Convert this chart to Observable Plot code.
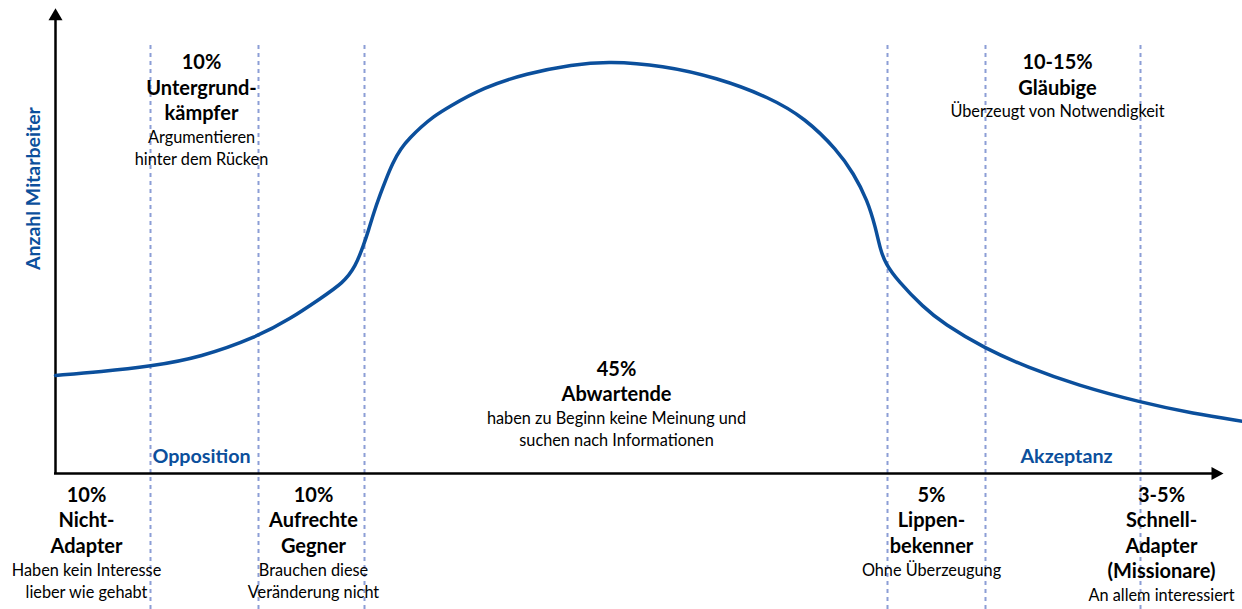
<!DOCTYPE html>
<html>
<head>
<meta charset="utf-8">
<script src="https://cdn.jsdelivr.net/npm/d3@7"></script>
<script src="https://cdn.jsdelivr.net/npm/@observablehq/plot@0.6"></script>
<style>
  html, body { margin: 0; padding: 0; background: #fff; }
  #chart svg { display: block; }
</style>
</head>
<body>
<div id="chart"></div>
<script>
// ---- data (x: phase units, y: relative number of employees) ----
const curveX = [0, 4.5, 9.5, 14.5, 20.2, 23.5, 26.5, 28.8, 30.0, 30.8, 31.3, 31.8, 32.5, 33.0, 33.7, 34.5, 35.5, 36.5, 37.8, 39.2, 42.8, 47.1, 51.7, 55.3, 60.7, 66.1, 71.4, 75.0, 78.2, 79.8, 81.2, 82.0, 82.5, 83.0, 84.2, 86.8, 88.8, 92.9, 97.2, 102.2, 108.5, 113.8, 118.7];
const curveY = [21.8, 22.6, 23.8, 25.8, 30.4, 34.4, 38.9, 42.4, 46.0, 50.7, 54.0, 57.8, 62.2, 65.1, 68.9, 72.2, 74.7, 76.9, 79.3, 81.3, 85.8, 88.9, 90.9, 91.6, 90.7, 88.0, 83.6, 78.9, 71.8, 66.7, 60.7, 54.7, 49.6, 46.7, 42.9, 36.9, 33.3, 27.8, 23.6, 19.6, 15.8, 13.3, 11.6];

const phaseBounds = [9.5, 20.3, 30.9, 83.2, 93.0, 108.5];

const groupX = [14.6, 3.1, 25.8, 56.1, 100.2, 87.6, 110.6];
const groupY = [91.3, -4.9, -4.9, 23.1, 91.3, -4.9, -4.9];
const groupBold = [
  ["10%", "Untergrund-", "kämpfer"],
  ["10%", "Nicht-", "Adapter"],
  ["10%", "Aufrechte", "Gegner"],
  ["45%", "Abwartende"],
  ["10-15%", "Gläubige"],
  ["5%", "Lippen-", "bekenner"],
  ["3-5%", "Schnell-", "Adapter", "(Missionare)"]
];
const groupNote = [
  ["Argumentieren", "hinter dem Rücken"],
  ["Haben kein Interesse", "lieber wie gehabt"],
  ["Brauchen diese", "Veränderung nicht"],
  ["haben zu Beginn keine Meinung und", "suchen nach Informationen"],
  ["Überzeugt von Notwendigkeit"],
  ["Ohne Überzeugung"],
  ["An allem interessiert"]
];

const zoneLabels = ["Opposition", "Akzeptanz"];
const zoneX = [14.6, 101.1];
const zoneY = [3.8, 3.8];

const yTitle = "Anzahl Mitarbeiter";

// ---- layout ----
const W = 1242, H = 609;
const mTop = 23, mBottom = 136, mLeft = 55, mRight = 0;
const yDomain = [0, 100];
const pxPerY = (H - mTop - mBottom) / (yDomain[1] - yDomain[0]);
const boldStep = 25.5, noteStep = 22, gap = -1.5;

const blue = "#0b4f9c";
const font = "Lato, 'Open Sans', sans-serif";

const curve = curveX.map((x, i) => ({x, y: curveY[i]}));

const boldLines = [], noteLines = [];
groupBold.forEach((lines, g) => {
  lines.forEach((t, k) => boldLines.push({x: groupX[g], y: groupY[g] - (k * boldStep) / pxPerY, t}));
  groupNote[g].forEach((t, j) => noteLines.push({
    x: groupX[g],
    y: groupY[g] - (lines.length * boldStep + gap + j * noteStep) / pxPerY,
    t
  }));
});

const zones = zoneLabels.map((t, i) => ({t, x: zoneX[i], y: zoneY[i]}));

const upArrow = {draw(ctx) { ctx.moveTo(0, 0); ctx.lineTo(7, 12); ctx.lineTo(-7, 12); ctx.closePath(); }};
const rightArrow = {draw(ctx) { ctx.moveTo(0, 0); ctx.lineTo(-12, -6.5); ctx.lineTo(-12, 6.5); ctx.closePath(); }};

const chart = Plot.plot({
  width: W,
  height: H,
  marginTop: mTop,
  marginBottom: mBottom,
  marginLeft: mLeft,
  marginRight: mRight,
  x: {domain: [0, 118.7], axis: null},
  y: {domain: yDomain, axis: null},
  style: {fontFamily: font, background: "#fff", overflow: "visible"},
  marks: [
    Plot.ruleX(phaseBounds, {y1: 95.1, y2: -30.4, stroke: "#8c9ed6", strokeWidth: 2, strokeDasharray: "4,4"}),
    Plot.ruleX([0], {y1: 0, y2: 101, stroke: "#000", strokeWidth: 2.5}),
    Plot.ruleY([0], {x1: -0.1, x2: 116, stroke: "#000", strokeWidth: 2.5}),
    Plot.dot([0], {x: 0, y: 103.4, symbol: upArrow, fill: "#000", stroke: "none"}),
    Plot.dot([0], {x: 116.8, y: 0, symbol: rightArrow, fill: "#000", stroke: "none"}),
    Plot.line(curve, {x: "x", y: "y", curve: "basis", stroke: blue, strokeWidth: 3.5}),
    Plot.text(boldLines, {x: "x", y: "y", text: "t", fontWeight: "bold", fontSize: 20, fill: "#000", textAnchor: "middle", lineAnchor: "middle"}),
    Plot.text(noteLines, {x: "x", y: "y", text: "t", fontSize: 16.3, fill: "#000", textAnchor: "middle", lineAnchor: "middle"}),
    Plot.text(zones, {x: "x", y: "y", text: "t", fontWeight: "bold", fontSize: 19.7, fill: blue, textAnchor: "middle", lineAnchor: "middle"}),
    Plot.text([yTitle], {x: -2.2, y: 63.3, text: d => d, rotate: -90, fontWeight: "bold", fontSize: 19.5, fill: blue, textAnchor: "middle", lineAnchor: "middle"})
  ]
});

document.getElementById("chart").appendChild(chart);
</script>
</body>
</html>
